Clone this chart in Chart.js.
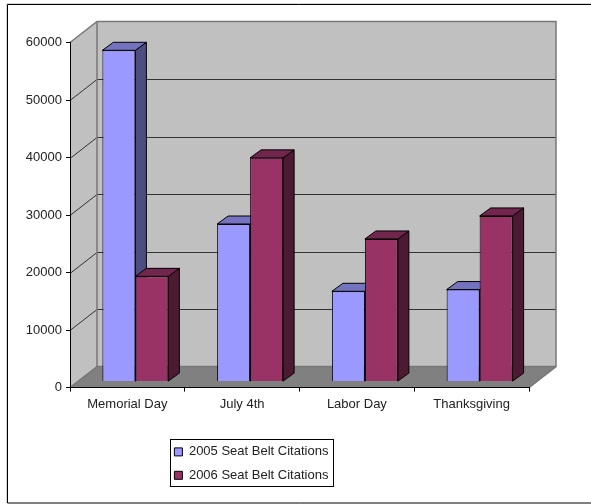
<!DOCTYPE html>
<html>
<head>
<meta charset="utf-8">
<title>Seat Belt Citations</title>
<script src="https://cdn.jsdelivr.net/npm/chart.js@4/dist/chart.umd.js"></script>
<style>
    html, body { margin: 0; padding: 0; background: #fff; }
    #chart-box { width: 591px; height: 504px; }
</style>
</head>
<body>
<div id="chart-box"><canvas id="chart-1" width="591" height="504"></canvas></div>
<script>
const categories = ['Memorial Day', 'July 4th', 'Labor Day', 'Thanksgiving'];
const citations2005 = [57600, 27400, 15700, 16000];
const citations2006 = [18300, 38900, 24800, 28800];

// Depth of the box and of the bars, in pixels
const WALL_DX = 27, WALL_DY = 21;
const BAR_SHIFT_X = 8, BAR_SHIFT_Y = 6;
const BAR_DX = 11, BAR_DY = 8;

// Frame, walls, floor and gridlines go behind everything
const boxPlugin = {
    id: 'box3d',
    afterLayout(chart) {
        // Move the legend to where Excel left it, narrow enough to wrap into two rows
        const legend = chart.legend;
        legend.left = 164;
        legend.right = 164 + 177;
        legend.top = 435;
        legend.bottom = 435 + 57;
    },
    beforeDraw(chart) {
        const c = chart.ctx;
        const a = chart.chartArea;
        const y = chart.scales.y;

        c.save();
        c.fillStyle = '#fff';
        c.fillRect(0, 0, chart.width, chart.height);

        // Outer frame, open on the right
        c.strokeStyle = '#d8d8d8';
        c.lineWidth = 1;
        c.beginPath();
        c.moveTo(6.5, 503);
        c.lineTo(6.5, 3.5);
        c.lineTo(591, 3.5);
        c.stroke();
        c.strokeStyle = '#000';
        c.beginPath();
        c.moveTo(7.5, 503);
        c.lineTo(7.5, 4.5);
        c.lineTo(591, 4.5);
        c.moveTo(7.5, 503);
        c.lineTo(591, 503);
        c.stroke();

        // Side wall
        c.fillStyle = '#c0c0c0';
        c.beginPath();
        c.moveTo(a.left, a.top);
        c.lineTo(a.left + WALL_DX, a.top - WALL_DY);
        c.lineTo(a.left + WALL_DX, a.bottom - WALL_DY);
        c.lineTo(a.left, a.bottom);
        c.closePath();
        c.fill();

        // Back wall
        c.fillRect(a.left + WALL_DX, a.top - WALL_DY, a.right - a.left, a.bottom - a.top);

        // Floor
        c.fillStyle = '#808080';
        c.beginPath();
        c.moveTo(a.left, a.bottom);
        c.lineTo(a.right, a.bottom);
        c.lineTo(a.right + WALL_DX, a.bottom - WALL_DY);
        c.lineTo(a.left + WALL_DX, a.bottom - WALL_DY);
        c.closePath();
        c.fill();

        // Gridlines across both walls
        c.strokeStyle = '#333';
        c.lineWidth = 1;
        y.ticks.forEach(t => {
            if (t.value === 0 || t.value === y.max) return;
            const py = Math.round(y.getPixelForValue(t.value)) + 0.5;
            c.beginPath();
            c.moveTo(a.left, py);
            c.lineTo(a.left + WALL_DX, py - WALL_DY);
            c.lineTo(a.right + WALL_DX, py - WALL_DY);
            c.stroke();
        });

        // Wall edges
        c.strokeStyle = '#777';
        c.lineWidth = 1.5;
        c.beginPath();
        c.moveTo(a.left, a.top);
        c.lineTo(a.left + WALL_DX, a.top - WALL_DY);
        c.lineTo(a.right + WALL_DX, a.top - WALL_DY);
        c.lineTo(a.right + WALL_DX, a.bottom - WALL_DY);
        c.lineTo(a.right, a.bottom);
        c.moveTo(a.left + WALL_DX, a.top - WALL_DY);
        c.lineTo(a.left + WALL_DX, a.bottom - WALL_DY);
        c.lineTo(a.right + WALL_DX, a.bottom - WALL_DY);
        c.moveTo(a.left + WALL_DX, a.bottom - WALL_DY);
        c.lineTo(a.left, a.bottom);
        c.stroke();
        c.restore();
    },
    beforeDatasetsDraw(chart) {
        const c = chart.ctx;
        c.save();
        c.translate(BAR_SHIFT_X, -BAR_SHIFT_Y);

        // Top and side of each bar, read from the bar elements
        chart.data.datasets.forEach((ds, i) => {
            chart.getDatasetMeta(i).data.forEach(bar => {
                const p = bar.getProps(['x', 'y', 'base', 'width'], true);
                const l = p.x - p.width / 2, r = p.x + p.width / 2;
                c.strokeStyle = '#000';
                c.lineWidth = 1;
                c.lineJoin = 'round';

                c.fillStyle = ds.sideColor;
                c.beginPath();
                c.moveTo(r, p.y);
                c.lineTo(r + BAR_DX, p.y - BAR_DY);
                c.lineTo(r + BAR_DX, p.base - BAR_DY);
                c.lineTo(r, p.base);
                c.closePath();
                c.fill();
                c.stroke();

                c.fillStyle = ds.topColor;
                c.beginPath();
                c.moveTo(l, p.y);
                c.lineTo(l + BAR_DX, p.y - BAR_DY);
                c.lineTo(r + BAR_DX, p.y - BAR_DY);
                c.lineTo(r, p.y);
                c.closePath();
                c.fill();
                c.stroke();
            });
        });
    },
    afterDatasetsDraw(chart) {
        chart.ctx.restore();
    },
    afterDraw(chart) {
        // Legend box
        const c = chart.ctx;
        c.save();
        c.strokeStyle = '#000';
        c.lineWidth = 1;
        c.strokeRect(170.5, 439.5, 163, 47);
        c.restore();
    }
};

const ctx1 = document.getElementById('chart-1').getContext('2d');

const chart1 = new Chart(ctx1, {
    type: 'bar',
    data: {
        labels: categories,
        datasets: [{
            label: '2005 Seat Belt Citations',
            data: citations2005,
            backgroundColor: '#9999ff',
            topColor: '#7373bf',
            sideColor: '#4d4d80',
            borderColor: '#000',
            borderWidth: 1
        }, {
            label: '2006 Seat Belt Citations',
            data: citations2006,
            backgroundColor: '#993366',
            topColor: '#73264d',
            sideColor: '#4d1a33',
            borderColor: '#000',
            borderWidth: 1
        }]
    },
    options: {
        responsive: false,
        animation: false,
        categoryPercentage: 0.575,
        barPercentage: 1,
        layout: {
            padding: { top: 42.5, right: 62, bottom: 0, left: 0 }
        },
        plugins: {
            tooltip: { enabled: false },
            legend: {
                position: 'bottom',
                align: 'start',
                labels: {
                    boxWidth: 8,
                    boxHeight: 8,
                    padding: 10.4,
                    color: '#222',
                    font: { family: '"Liberation Sans", Arial, sans-serif', size: 13 }
                }
            }
        },
        scales: {
            x: {
                afterFit(axis) { axis.height = 83; },
                border: { color: '#000' },
                grid: { drawOnChartArea: false, color: '#000', tickLength: 4 },
                ticks: {
                    color: '#222',
                    padding: 5,
                    maxRotation: 0,
                    font: { family: '"Liberation Sans", Arial, sans-serif', size: 13 }
                }
            },
            y: {
                min: 0,
                max: 60000,
                afterFit(axis) { axis.width = 70; },
                border: { color: '#000' },
                grid: { drawOnChartArea: false, color: '#000', tickLength: 4 },
                ticks: {
                    stepSize: 10000,
                    color: '#222',
                    padding: 4,
                    callback: value => String(value),
                    font: { family: '"Liberation Sans", Arial, sans-serif', size: 13 }
                }
            }
        }
    },
    plugins: [boxPlugin]
});
</script>
</body>
</html>
